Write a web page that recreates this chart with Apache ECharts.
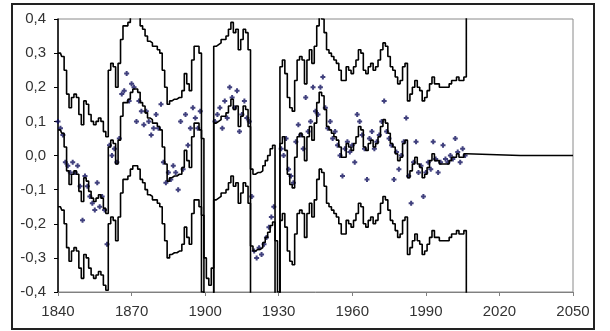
<!DOCTYPE html>
<html>
<head>
<meta charset="utf-8">
<script src="https://cdn.jsdelivr.net/npm/echarts@6/dist/echarts.min.js"></script>
<style>
  html, body { margin: 0; padding: 0; background: #fff; }
  #chart { width: 610px; height: 331px; }
</style>
</head>
<body>
<div id="chart"></div>
<script>
// Annual series, one value per year starting at firstYear
const firstYear = 1840;

const upper = [
  .30, .30, .29, .25, .18, .14, .17, .18, .17, .12,
  .09, .16, .15, .12, .10, .09, .10, .11, .10, .07,
  .055, .25, .27, .26, .20, .27, .34, .38, .38, .39,
  .41, .42, .42, .41, .38, .37, .35, .335, .33, .32,
  .32, .31, .30, .25, .20, .15, .16, .165, .165, .17,
  .17, .19, .24, .21, .19, .28, .32, .32, .30, .05,
  -.30, -.36, -.38, -.33, .32, .325, .33, .34, .34, .35,
  .37, .39, .36, .37, .31, .34, .37, .36, .31, -.04,
  -.055, -.05, -.05, -.045, -.03, -.015, .00, .02, .03, -.25,
  -.40, .26, .28, .24, .17, .14, .13, .22, .28, .29,
  .28, .21, .28, .31, .27, .32, .38, .41, .40, .36,
  .31, .30, .29, .28, .27, .25, .22, .22, .26, .25,
  .24, .26, .28, .31, .30, .25, .24, .26, .27, .25,
  .26, .28, .31, .33, .32, .29, .26, .25, .23, .21,
  .22, .26, .27, .16, .18, .20, .22, .20, .19, .16,
  .17, .19, .21, .23, .21, .21, .20, .20, .20, .20,
  .21, .22, .22, .23, .22, .22, .23, .95
];

const middle = [
  .075, .075, .065, .025, -.045, -.085, -.055, -.045, -.055, -.105,
  -.135, -.065, -.075, -.105, -.125, -.135, -.125, -.115, -.125, -.155,
  -.17, .025, .045, .035, -.025, .045, .115, .155, .155, .165,
  .185, .195, .195, .185, .155, .145, .125, .11, .105, .095,
  .095, .085, .075, .025, -.025, -.075, -.065, -.06, -.06, -.055,
  -.055, -.035, .015, -.015, -.035, .055, .095, .095, .075, -.175,
  -.525, -.585, -.605, -.555, .095, .10, .105, .115, .115, .125,
  .145, .165, .135, .145, .085, .115, .145, .135, .085, -.265,
  -.28, -.275, -.275, -.27, -.255, -.24, -.225, -.205, -.195, -.475,
  -.625, .035, .055, .015, -.055, -.085, -.095, -.005, .055, .065,
  .055, -.015, .055, .085, .045, .095, .155, .185, .175, .135,
  .085, .075, .065, .055, .045, .025, -.005, -.005, .035, .025,
  .015, .035, .055, .085, .075, .025, .015, .035, .045, .025,
  .035, .055, .085, .105, .095, .065, .035, .025, .005, -.015,
  -.005, .035, .045, -.065, -.045, -.025, -.005, -.025, -.035, -.065,
  -.055, -.035, -.015, .005, -.015, -.015, -.025, -.025, -.025, -.025,
  -.015, -.005, -.005, .005, -.005, -.005, .005, .00
];

const lower = [
  -.15, -.15, -.16, -.20, -.27, -.31, -.28, -.27, -.28, -.33,
  -.36, -.29, -.30, -.33, -.35, -.36, -.35, -.34, -.35, -.38,
  -.395, -.20, -.18, -.19, -.25, -.18, -.11, -.07, -.07, -.06,
  -.04, -.03, -.03, -.04, -.07, -.08, -.10, -.115, -.12, -.13,
  -.13, -.14, -.15, -.20, -.25, -.30, -.29, -.285, -.285, -.28,
  -.28, -.26, -.21, -.24, -.26, -.17, -.13, -.13, -.15, -.40,
  -.75, -.81, -.83, -.78, -.13, -.125, -.12, -.11, -.11, -.10,
  -.08, -.06, -.09, -.08, -.14, -.11, -.08, -.09, -.14, -.49,
  -.505, -.50, -.50, -.495, -.48, -.465, -.45, -.43, -.42, -.70,
  -.85, -.19, -.17, -.21, -.28, -.31, -.32, -.23, -.17, -.16,
  -.17, -.24, -.17, -.14, -.18, -.13, -.07, -.04, -.05, -.09,
  -.14, -.15, -.16, -.17, -.18, -.20, -.23, -.23, -.19, -.20,
  -.21, -.19, -.17, -.14, -.15, -.20, -.21, -.19, -.18, -.20,
  -.19, -.17, -.14, -.12, -.13, -.16, -.19, -.20, -.22, -.24,
  -.23, -.19, -.18, -.29, -.27, -.25, -.23, -.25, -.26, -.29,
  -.28, -.26, -.24, -.22, -.24, -.24, -.25, -.25, -.25, -.25,
  -.24, -.23, -.23, -.22, -.23, -.23, -.22, -.95
];

// flat continuation of the centre line to the end of the axis
const middleTail = [[2007, 0], [2050, 0]];

// individual yearly observations
const points = [
  [1840, .10], [1841, .08], [1842, .06], [1843, -.02], [1844, -.03], [1845, -.05], [1846, -.02], [1847, -.05], [1848, -.03], [1849, -.09],
  [1850, -.19], [1851, -.06], [1852, -.09], [1853, -.12], [1854, -.14], [1855, -.16], [1856, -.08], [1857, -.15], [1858, -.12], [1859, -.16],
  [1860, -.26], [1861, .03], [1862, .00], [1863, .02], [1864, -.02], [1865, .05], [1866, .18], [1867, .19], [1868, .24], [1869, .16],
  [1870, .21], [1871, .20], [1872, .10], [1873, .16], [1874, .13], [1875, .09], [1876, .13], [1877, .10], [1878, .06], [1879, .08],
  [1880, .12], [1881, .08], [1882, .15], [1883, -.02], [1884, -.08], [1885, -.05], [1886, -.07], [1887, -.03], [1888, -.05], [1889, -.10],
  [1890, .10], [1891, -.04], [1892, .12], [1893, .03], [1894, .08], [1895, .14], [1896, .11], [1897, .08], [1898, .13],
  [1904, .10], [1905, .12], [1906, .14], [1907, .08], [1908, .16], [1909, .11], [1910, .20], [1911, .17], [1912, .14], [1913, .19],
  [1914, .07], [1915, .12], [1916, .16], [1917, .11], [1918, .10],
  [1919, -.12], [1920, -.28], [1921, -.30], [1922, -.27], [1923, -.29], [1924, -.26], [1925, -.24], [1926, -.21], [1927, -.18], [1928, -.15],
  [1931, .02], [1932, .00], [1933, .05], [1934, -.04], [1935, -.06], [1936, -.08], [1937, .04], [1938, .09], [1939, .06],
  [1940, .02], [1941, .17], [1942, .07], [1943, .10], [1944, .20], [1945, .13], [1946, .12], [1947, .20], [1948, .23], [1949, .14],
  [1950, .08], [1951, .10], [1952, .05], [1953, .07], [1954, .03], [1955, .00], [1956, -.06], [1957, .02], [1958, .04], [1959, .01],
  [1960, .03], [1961, -.02], [1962, .12], [1963, .10], [1964, .06], [1965, .02], [1966, -.07], [1967, .05], [1968, .07], [1969, .02],
  [1970, .04], [1971, .06], [1972, .10], [1973, .16], [1974, .07], [1975, .05], [1976, .03], [1977, -.07], [1978, .01], [1979, -.04],
  [1980, .00], [1981, .04], [1982, .11], [1983, -.06], [1984, -.14], [1985, -.02], [1986, .04], [1987, -.05], [1988, -.03], [1989, -.12],
  [1990, -.05], [1991, -.02], [1992, -.04], [1993, .04], [1994, -.01], [1995, -.05], [1996, -.02], [1997, .03], [1998, -.01], [1999, -.02],
  [2000, .00], [2001, -.01], [2002, .05], [2003, .01], [2004, -.02], [2005, .02], [2006, .00]
];

// axis range and tick labels
const xStart = 1840, xEnd = 2050, xStep = 30;
const yMin = -0.4, yMax = 0.4, yStep = 0.1;

// x positions are measured in years after xStart so the ticks fall on 1840, 1870, ...
const toPairs = arr => arr.map((v, i) => [firstYear + i - xStart, v]);
const shift = pairs => pairs.map(p => [p[0] - xStart, p[1]]);

const lineStyle = { color: '#000', width: 1.6 };
const labelFont = { fontFamily: 'Liberation Sans, Arial, sans-serif', fontSize: 15, color: '#333' };

const chart = echarts.init(document.getElementById('chart'), null, { renderer: 'canvas' });
chart.setOption({
  animation: false,
  backgroundColor: '#fff',
  graphic: [{
    type: 'rect',
    shape: { x: 12, y: 4, width: 582, height: 325 },
    style: { fill: 'none', stroke: '#222', lineWidth: 2 },
    z: 0
  }],
  grid: { left: 58, right: 37, top: 19, bottom: 39, show: true, borderColor: '#8a8a8a', borderWidth: 1, backgroundColor: '#fff' },
  xAxis: {
    type: 'value',
    min: 0, max: xEnd - xStart, interval: xStep,
    axisLine: { show: true, onZero: false, lineStyle: { color: '#808080', width: 1 } },
    axisTick: { show: true, length: 4, lineStyle: { color: '#808080' } },
    splitLine: { show: false },
    axisLabel: Object.assign({ margin: 12, formatter: v => String(v + xStart) }, labelFont)
  },
  yAxis: {
    type: 'value',
    min: yMin, max: yMax, interval: yStep,
    axisLine: { show: true, lineStyle: { color: '#000', width: 1.5 } },
    axisTick: { show: true, length: 4, lineStyle: { color: '#000' } },
    splitLine: { show: false },
    axisLabel: Object.assign({
      margin: 12,
      formatter: v => (Math.abs(v) < 1e-9 ? '0,0' : v.toFixed(1).replace('.', ','))
    }, labelFont)
  },
  series: [
    {
      type: 'scatter', data: shift(points), symbol: 'path://M3,0H7V3H10V7H7V10H3V7H0V3H3Z',
      symbolSize: 5, itemStyle: { color: '#12125e' }, z: 3, silent: true
    },
    { type: 'line', data: toPairs(upper), step: 'middle', showSymbol: false, lineStyle, z: 4, clip: true },
    { type: 'line', data: toPairs(middle).concat(shift(middleTail)), step: 'middle', showSymbol: false, lineStyle, z: 4, clip: true },
    { type: 'line', data: toPairs(lower), step: 'middle', showSymbol: false, lineStyle, z: 4, clip: true }
  ]
});
</script>
</body>
</html>
